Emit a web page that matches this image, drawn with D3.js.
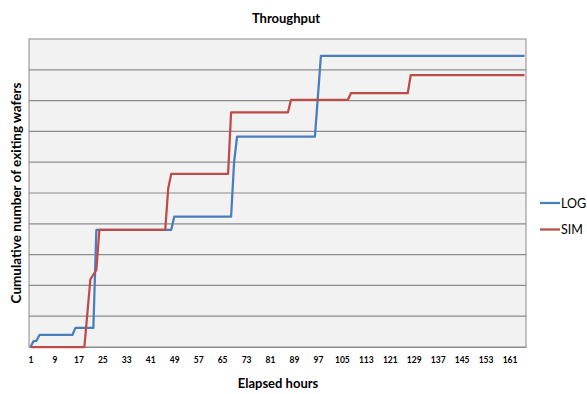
<!DOCTYPE html>
<html><head><meta charset="utf-8">
<script src="https://cdn.jsdelivr.net/npm/d3@7"></script>
<style>body{margin:0;background:#fff}svg{display:block}</style>
</head><body>
<svg id="c" width="587" height="394"></svg>
<script>
const title = "Throughput";
const xTitle = "Elapsed hours";
const yTitle = "Cumulative number of exiting wafers";
const nHours = 166;
const xTickLabels = [1,9,17,25,33,41,49,57,65,73,81,89,97,105,113,121,129,137,145,153,161];
const yGrid = [0,1,2,3,4,5,6,7,8,9,10];
// change points of each series (hour, cumulative value in gridline units)
const logHours = [1,2,3,4,15,16,22,23,48,49,68,69,70,96,98,166];
const logValues = [0,0.19,0.2,0.39,0.39,0.62,0.62,3.8,3.8,4.23,4.23,6.0,6.83,6.83,9.45,9.45];
const simHours = [1,19,21,23,24,46,47,48,67,68,87,88,107,108,127,128,166];
const simValues = [0,0,2.2,2.5,3.8,3.8,5.15,5.62,5.62,7.62,7.62,8.02,8.02,8.24,8.24,8.83,8.83];
const seriesNames = ["LOG","SIM"];
const colors = ["#4a7ebb","#be4b48"];

const svg = d3.select("#c");
const L=29, R=526, T=39, B=347;
const x = d3.scaleLinear().domain([0.5, nHours+0.5]).range([L,R]);
const y = d3.scaleLinear().domain([0,10]).range([B,T]);

svg.append("rect").attr("x",L).attr("y",T).attr("width",R-L).attr("height",B-T)
  .attr("fill","#f2f2f2").attr("stroke","#8a8a8a").attr("stroke-width",1);

svg.append("g").selectAll("line").data(yGrid.slice(1,-1)).join("line")
  .attr("x1",L).attr("x2",R).attr("y1",d=>y(d)).attr("y2",d=>y(d))
  .attr("stroke","#8c8c8c").attr("stroke-width",1.2);

const xAxis = d3.axisBottom(x).tickValues(xTickLabels).tickSize(0).tickPadding(10);
const gx = svg.append("g").attr("transform",`translate(0,${B})`).call(xAxis);
gx.select(".domain").attr("stroke","#8a8a8a");
gx.selectAll("text").attr("font-family","Lato, 'Open Sans', sans-serif")
  .attr("font-weight","bold").attr("font-size","8.5px").attr("fill","#000");

const line = d3.line().x(d=>x(d[0])).y(d=>y(d[1]));
const series = [d3.zip(logHours, logValues), d3.zip(simHours, simValues)];
svg.append("g").selectAll("path").data(series).join("path")
  .attr("d",line).attr("fill","none").attr("stroke",(d,i)=>colors[i])
  .attr("stroke-width",2.25).attr("stroke-linejoin","round");

const font = "Lato, 'Open Sans', sans-serif";
svg.append("text").attr("x",286).attr("y",23).attr("text-anchor","middle")
  .attr("font-family",font).attr("font-weight","bold").attr("font-size","13px").text(title);
svg.append("text").attr("x",278).attr("y",388).attr("text-anchor","middle")
  .attr("font-family",font).attr("font-weight","bold").attr("font-size","13px").text(xTitle);
svg.append("text").attr("transform","translate(21,193) rotate(-90)").attr("text-anchor","middle")
  .attr("font-family",font).attr("font-weight","bold").attr("font-size","13.5px").text(yTitle);

const lg = svg.append("g").selectAll("g").data(seriesNames).join("g")
  .attr("transform",(d,i)=>`translate(540,${203+i*26.5})`);
lg.append("line").attr("x1",0).attr("x2",20).attr("stroke",(d,i)=>colors[i]).attr("stroke-width",2.25);
lg.append("text").attr("x",21).attr("y",4.5).attr("font-family",font).attr("font-size","12.5px").text(d=>d);
</script>
</body></html>
